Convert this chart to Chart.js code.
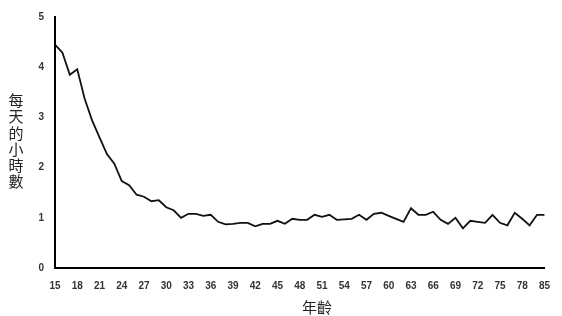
<!DOCTYPE html>
<html>
<head>
<meta charset="utf-8">
<script src="https://cdn.jsdelivr.net/npm/chart.js@4"></script>
<style>
  html, body { margin: 0; padding: 0; background: #fff; }
  #wrap { width: 562px; height: 316px; position: relative; }
</style>
</head>
<body>
<div id="wrap"><canvas id="chart" width="562" height="316"></canvas></div>
<script>
// ages on the x axis (the last point is labelled 85 in the source chart)
const ages = [15, 16, 17, 18, 19, 20, 21, 22, 23, 24, 25, 26, 27, 28, 29, 30,
  31, 32, 33, 34, 35, 36, 37, 38, 39, 40, 41, 42, 43, 44, 45, 46, 47, 48, 49, 50,
  51, 52, 53, 54, 55, 56, 57, 58, 59, 60, 61, 62, 63, 64, 65, 66, 67, 68, 69, 70,
  71, 72, 73, 74, 75, 76, 77, 78, 79, 80, 85];

// hours per day
const hours = [4.45, 4.29, 3.85, 3.96, 3.37, 2.94, 2.6, 2.27, 2.08, 1.73, 1.65, 1.46,
  1.42, 1.33, 1.35, 1.21, 1.15, 1.0, 1.08, 1.08, 1.04, 1.06, 0.92, 0.87, 0.88, 0.9,
  0.9, 0.83, 0.88, 0.88, 0.94, 0.88, 0.98, 0.96, 0.96, 1.06, 1.02, 1.06, 0.96, 0.97,
  0.98, 1.06, 0.96, 1.08, 1.1, 1.04, 0.98, 0.92, 1.19, 1.06, 1.06, 1.12, 0.96, 0.88,
  1.0, 0.79, 0.94, 0.92, 0.9, 1.06, 0.9, 0.85, 1.1, 0.98, 0.85, 1.06, 1.06];

const yTitle = '每天的小時數';
const xTitle = '年齡';

const tickFont = { family: '"Liberation Sans", Arial, sans-serif', size: 10, weight: 'bold' };
const cjkFont = '"Noto Sans CJK TC", "Noto Sans CJK SC", sans-serif';

// draws the stacked vertical y title and the x title
const titlesPlugin = {
  id: 'titles',
  afterDraw(chart) {
    const ctx = chart.ctx;
    ctx.save();
    ctx.fillStyle = '#222';
    ctx.font = '15px ' + cjkFont;
    ctx.textAlign = 'center';
    ctx.textBaseline = 'middle';
    const chars = Array.from(yTitle);
    const step = 16.3;
    const startY = 141 - (chars.length - 1) * step / 2;
    chars.forEach((c, i) => ctx.fillText(c, 16, startY + i * step));
    ctx.fillText(xTitle, 317, 307);
    ctx.restore();
  }
};

new Chart(document.getElementById('chart'), {
  type: 'line',
  data: {
    labels: ages,
    datasets: [{
      data: hours,
      borderColor: '#111',
      borderWidth: 1.8,
      pointRadius: 0,
      tension: 0,
      fill: false
    }]
  },
  options: {
    responsive: false,
    animation: false,
    layout: { padding: { left: 0, right: 5, top: 8, bottom: 0 } },
    plugins: { legend: { display: false }, tooltip: { enabled: false } },
    scales: {
      x: {
        type: 'category',
        offset: false,
        grid: { display: true, drawOnChartArea: false, drawTicks: false },
        border: { display: true, color: '#000', width: 2 },
        ticks: {
          autoSkip: false,
          maxRotation: 0,
          padding: 12,
          color: '#333',
          font: tickFont,
          callback: function (value, index) {
            return index % 3 === 0 ? ages[index] : null;
          }
        },
        afterFit(scale) { scale.height = 48; }
      },
      y: {
        min: 0,
        max: 5,
        grid: { display: true, drawOnChartArea: false, drawTicks: false },
        border: { display: true, color: '#000', width: 2 },
        ticks: { stepSize: 1, padding: 11, color: '#333', font: tickFont },
        afterFit(scale) { scale.width = 55; }
      }
    }
  },
  plugins: [titlesPlugin]
});
</script>
</body>
</html>
